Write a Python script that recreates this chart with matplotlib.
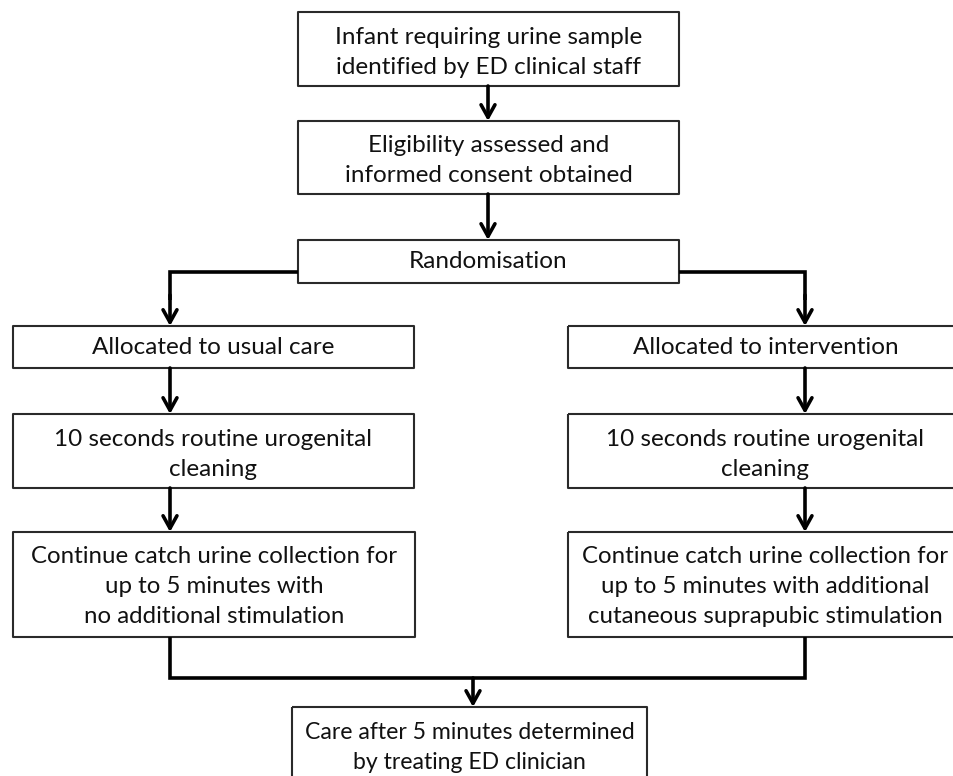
import matplotlib
matplotlib.use("Agg")
import matplotlib.pyplot as plt
from matplotlib.patches import Rectangle

# ---- content ----
box_texts = [
    ["Infant requiring urine sample", "identified by ED clinical staff"],
    ["Eligibility assessed and", "informed consent obtained"],
    ["Randomisation"],
    ["Allocated to usual care"],
    ["Allocated to intervention"],
    ["10 seconds routine urogenital", "cleaning"],
    ["10 seconds routine urogenital", "cleaning"],
    ["Continue catch urine collection for", "up to 5 minutes with", "no additional stimulation"],
    ["Continue catch urine collection for", "up to 5 minutes with additional", "cutaneous suprapubic stimulation"],
    ["Care after 5 minutes determined", "by treating ED clinician"],
]

# layout (pixel coordinates: x0, y0, x1, y1)
box_geom = [
    (298, 12, 679, 86),
    (298, 121, 679, 194),
    (298, 240, 679, 283),
    (13, 326, 414, 368),
    (568, 326, 963, 368),
    (13, 414, 414, 488),
    (568, 414, 963, 488),
    (13, 532, 415, 637),
    (568, 532, 963, 637),
    (292, 707, 647, 800),
]
text_offset = [3, 3, 0, 0, 0, 3, 3, 2, 2, -6]
font_sizes = [17.5, 17.5, 17.5, 17.5, 17.5, 17.5, 17.5, 17.3, 17.3, 16.6]

W, H = 954, 776
fig = plt.figure(figsize=(W / 100, H / 100), dpi=100)
ax = fig.add_axes([0, 0, 1, 1])
ax.set_xlim(0, W)
ax.set_ylim(H, 0)
ax.axis("off")

FONT = ["Lato", "DejaVu Sans"]
LINE_H = 30

for (x0, y0, x1, y1), lines, off, fs in zip(box_geom, box_texts, text_offset, font_sizes):
    ax.add_patch(Rectangle((x0, y0), x1 - x0, y1 - y0, fill=False,
                           edgecolor="#2a2a2a", lw=1.5, joinstyle="round"))
    cx = (x0 + x1) / 2
    cy = (y0 + y1) / 2 + off
    n = len(lines)
    for i, t in enumerate(lines):
        y = cy + (i - (n - 1) / 2) * LINE_H
        ax.text(cx, y, t, ha="center", va="center", fontsize=fs,
                family=FONT, color="#111111")

LW = 2.6
AP = dict(arrowstyle="->,head_length=0.9,head_width=0.5", lw=LW,
          color="black", shrinkA=0, shrinkB=0, mutation_scale=10)


def arrow(x0, y0, x1, y1):
    ax.annotate("", xy=(x1, y1), xytext=(x0, y0), arrowprops=AP)


def line(xs, ys):
    ax.plot(xs, ys, color="black", lw=LW, solid_joinstyle="miter",
            solid_capstyle="butt")


# top column
arrow(488, 86, 488, 121)
arrow(488, 194, 488, 240)

# randomisation split
line([298, 170, 170], [272, 272, 300])
arrow(170, 295, 170, 326)
line([679, 805, 805], [272, 272, 300])
arrow(805, 295, 805, 326)

# columns
for x in (170, 805):
    arrow(x, 368, x, 414)
    arrow(x, 488, x, 532)

# merge
line([170, 170, 805, 805], [637, 678, 678, 637])
arrow(473, 678, 473, 707)

fig.savefig("out.png", dpi=100, facecolor="white")
